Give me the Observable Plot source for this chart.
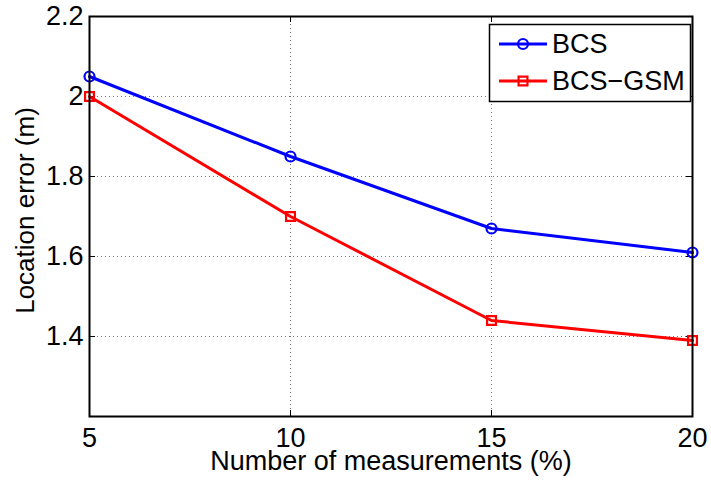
<!DOCTYPE html>
<html>
<head>
<meta charset="utf-8">
<script src="https://cdn.jsdelivr.net/npm/d3@7"></script>
<script src="https://cdn.jsdelivr.net/npm/@observablehq/plot@0.6"></script>
<style>
  html, body { margin: 0; padding: 0; background: #fff; }
  #chart { width: 711px; height: 484px; }
</style>
</head>
<body>
<div id="chart"></div>
<script>
// Localization error versus fraction of measurements used
const measurements = [5, 10, 15, 20];
const bcs = [2.05, 1.85, 1.67, 1.61];
const bcsGsm = [2.00, 1.70, 1.44, 1.39];

const seriesNames = ["BCS", "BCS\u2212GSM"];
const seriesColors = ["#0000ff", "#ff0000"];
const seriesSymbols = ["circle", "square"];

const xTicks = [5, 10, 15, 20];
const yTicks = [1.4, 1.6, 1.8, 2, 2.2];
const xGrid = [10, 15];
const yGrid = [1.4, 1.6, 1.8, 2.0];

const xLabel = "Number of measurements (%)";
const yLabel = "Location error (m)";

const rows = [
  ...measurements.map((m, i) => ({series: seriesNames[0], x: m, y: bcs[i]})),
  ...measurements.map((m, i) => ({series: seriesNames[1], x: m, y: bcsGsm[i]}))
];

const W = 711, H = 484;
const M = {left: 89, right: 19, top: 16, bottom: 68};
const innerW = W - M.left - M.right;
const innerH = H - M.top - M.bottom;
const tickLen = 6;
const font = "'Liberation Sans', Helvetica, Arial, sans-serif";

const gridStyle = {stroke: "#777", strokeOpacity: 1, strokeWidth: 1, strokeDasharray: "1,3"};

const chart = Plot.plot({
  width: W,
  height: H,
  marginLeft: M.left,
  marginRight: M.right,
  marginTop: M.top,
  marginBottom: M.bottom,
  style: {fontFamily: font, fontSize: "27px", background: "#fff", color: "#000"},
  x: {domain: [5, 20]},
  y: {domain: [1.2, 2.2]},
  color: {domain: seriesNames, range: seriesColors},
  symbol: {domain: seriesNames, range: seriesSymbols},
  marks: [
    Plot.gridX(xGrid, gridStyle),
    Plot.gridY(yGrid, gridStyle),
    // inward tick marks on all four sides
    Plot.tickX(xTicks, {x: d => d, stroke: "#000", insetTop: innerH - tickLen}),
    Plot.tickX(xTicks, {x: d => d, stroke: "#000", insetBottom: innerH - tickLen}),
    Plot.tickY(yTicks, {y: d => d, stroke: "#000", insetRight: innerW - tickLen}),
    Plot.tickY(yTicks, {y: d => d, stroke: "#000", insetLeft: innerW - tickLen}),
    Plot.axisX(xTicks, {tickSize: 0, tickPadding: 11, label: null, fontSize: 27, tickFormat: d => String(d)}),
    Plot.axisY(yTicks, {tickSize: 0, tickPadding: 6, label: null, fontSize: 27, tickFormat: d => String(d)}),
    Plot.line(rows, {x: "x", y: "y", z: "series", stroke: "series", strokeWidth: 3}),
    Plot.dot(rows, {x: "x", y: "y", stroke: "series", symbol: "series", r: 5, strokeWidth: 2.2, fill: "none"}),
    Plot.frame({stroke: "#000", strokeWidth: 2}),
    Plot.text([xLabel], {frameAnchor: "bottom", textAnchor: "middle", dy: 53, lineAnchor: "bottom", fontSize: 27}),
    Plot.text([yLabel], {frameAnchor: "left", textAnchor: "middle", rotate: -90, dx: -56, dy: -6, lineAnchor: "bottom", fontSize: 26})
  ]
});

document.getElementById("chart").appendChild(chart);

// legend box in the upper-right corner of the axes
const svg = d3.select(chart);
const lg = svg.append("g")
  .attr("font-family", font)
  .attr("font-size", 27)
  .attr("text-anchor", "start");
lg.append("rect")
  .attr("x", 489.5).attr("y", 24.5).attr("width", 201).attr("height", 77)
  .attr("fill", "#fff").attr("stroke", "#000").attr("stroke-width", 1.5);
const symGen = d3.symbol().size(25 * Math.PI);
seriesNames.forEach((name, i) => {
  const cy = 44 + i * 37;
  lg.append("line")
    .attr("x1", 499).attr("x2", 547).attr("y1", cy).attr("y2", cy)
    .attr("stroke", seriesColors[i]).attr("stroke-width", 3);
  lg.append("path")
    .attr("d", symGen.type(seriesSymbols[i] === "circle" ? d3.symbolCircle : d3.symbolSquare)())
    .attr("transform", `translate(523,${cy})`)
    .attr("fill", "none").attr("stroke", seriesColors[i]).attr("stroke-width", 2.2);
  lg.append("text")
    .attr("x", 552).attr("y", cy).attr("dy", "0.35em")
    .attr("fill", "#000")
    .text(name);
});
</script>
</body>
</html>
